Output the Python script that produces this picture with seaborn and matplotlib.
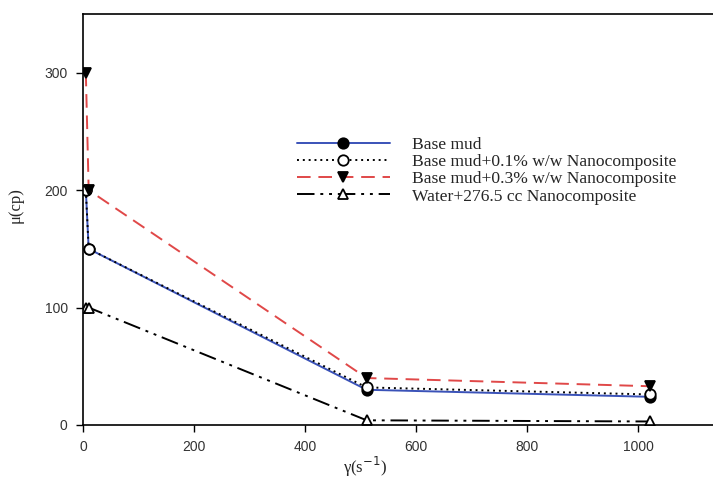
import matplotlib
matplotlib.use("Agg")
import matplotlib.pyplot as plt
import pandas as pd
import seaborn as sns

# shear rate (1/s) and viscosity (cp)
shear_rate = [5.11, 10.22, 511, 1022]
base_mud = [200, 150, 30, 24]
base_mud_01 = [200, 150, 32, 26]
base_mud_03 = [300, 200, 40, 33]
water_nano = [100, 100, 4, 3]

labels = [
    "Base mud",
    "Base mud+0.1% w/w Nanocomposite",
    "Base mud+0.3% w/w Nanocomposite",
    "Water+276.5 cc Nanocomposite",
]

sns.set_style("ticks")
plt.rcParams["font.family"] = ["Liberation Sans", "DejaVu Sans"]

fig = plt.figure(figsize=(7.13, 4.79), dpi=100)
ax = fig.add_axes([83 / 713, 1 - 425 / 479, 1 - 83 / 713, (425 - 14) / 479])

series = [base_mud, base_mud_01, base_mud_03, water_nano]
styles = [
    dict(color="#3a52b8", linestyle="-", marker="o", mfc="black", mec="black"),
    dict(color="black", linestyle=(0, (1, 2)), marker="o", mfc="white", mec="black"),
    dict(color="#e04848", linestyle=(0, (7, 4)), marker="v", mfc="black", mec="black"),
    dict(color="black", linestyle=(0, (9, 3, 1.5, 3, 1.5, 3)), marker="^", mfc="white", mec="black"),
]

for vals, lab, st in zip(series, labels, styles):
    df = pd.DataFrame({"x": shear_rate, "y": vals})
    sns.lineplot(data=df, x="x", y="y", ax=ax, label=lab, linewidth=1.4,
                 markersize=7.5, markeredgewidth=1.3, **st)

ax.set_xlim(0, 1135)
ax.set_ylim(0, 350)
ax.set_xticks([0, 200, 400, 600, 800, 1000])
ax.set_yticks([0, 100, 200, 300])
ax.tick_params(axis="both", direction="out", length=5, width=1, labelsize=10,
               colors="black", labelcolor="#333333")
ax.tick_params(axis="y", pad=6)
ax.tick_params(axis="x", pad=6)
for side in ["left", "bottom", "top"]:
    ax.spines[side].set_color("black")
    ax.spines[side].set_linewidth(1.2)
ax.spines["right"].set_visible(False)

ax.set_xlabel("γ(s$^{-1}$)", family=["Liberation Serif", "DejaVu Serif"], fontsize=12)
ax.set_ylabel("μ(cp)", family=["Liberation Serif", "DejaVu Serif"], fontsize=12)
ax.xaxis.set_label_coords(0.448, -0.072)
ax.yaxis.set_label_coords(-0.095, 0.535)

leg = ax.legend(loc="upper left", bbox_to_anchor=(297 / 713, 1 - 137 / 479),
                bbox_transform=fig.transFigure, frameon=False, borderpad=0,
                borderaxespad=0, handlelength=5.3, handletextpad=1.3,
                labelspacing=0.05, prop={"family": "Liberation Serif", "size": 12.6})

fig.savefig("out.png", dpi=100)
